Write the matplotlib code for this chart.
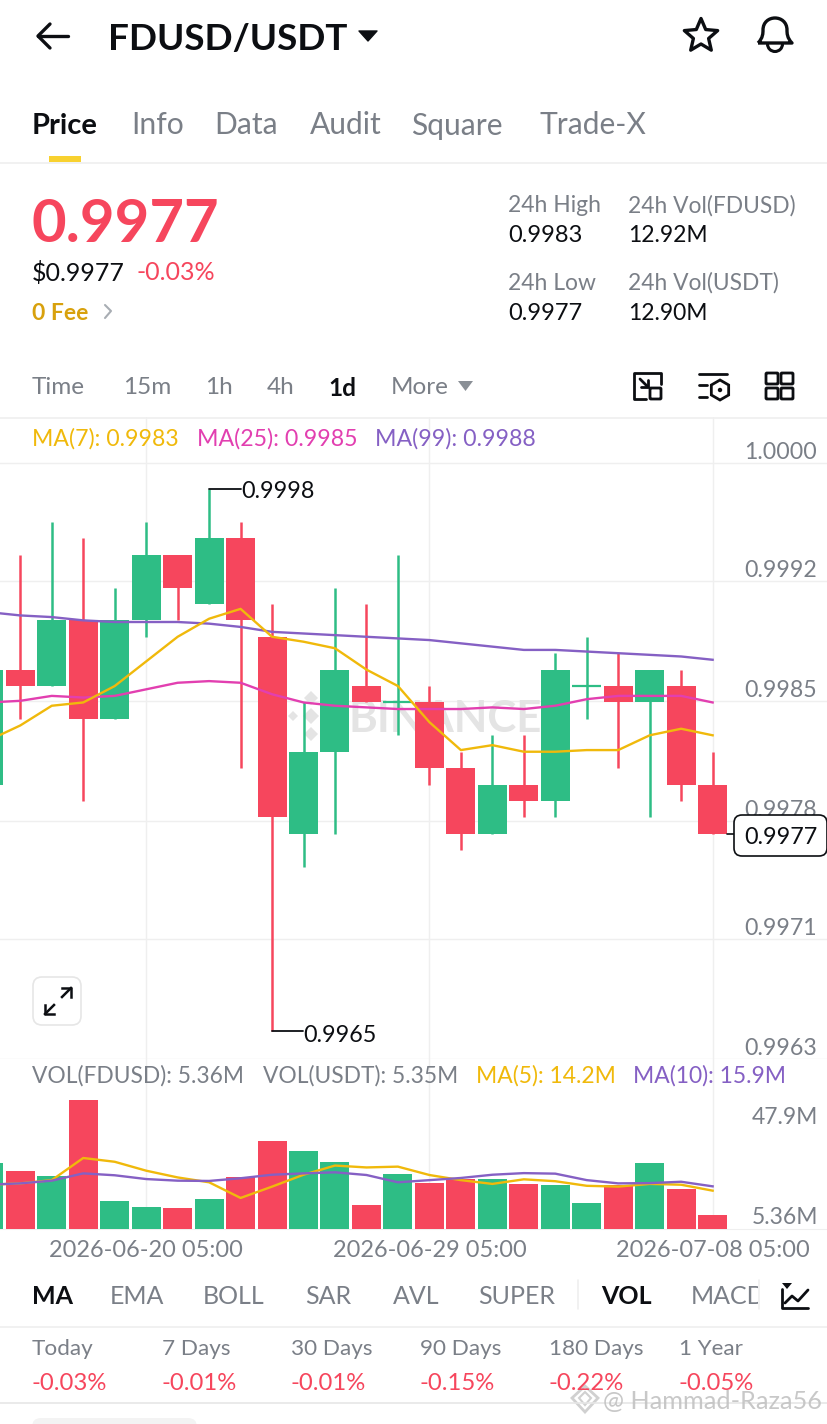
import numpy as np
import matplotlib
matplotlib.use('Agg')
import matplotlib.pyplot as plt
from matplotlib.patches import FancyBboxPatch, Rectangle, Polygon, Circle, Arc, PathPatch
from matplotlib.path import Path

plt.rcParams['font.family'] = ['Lato', 'DejaVu Sans']

W, H = 828, 1424

# candles, oldest first
opens = [0.9980, 0.9987, 0.9986, 0.9990, 0.9984, 0.9990, 0.9994, 0.9991, 0.9995, 0.9989, 0.9977, 0.9982,
         0.9986, 0.9985, 0.9985, 0.9981, 0.9977, 0.9980, 0.9979, 0.9986, 0.9986, 0.9985, 0.9986, 0.9980]
closes = [0.9987, 0.9986, 0.9990, 0.9984, 0.9990, 0.9994, 0.9992, 0.9995, 0.9990, 0.9978, 0.9982, 0.9987,
          0.9985, 0.9985, 0.9981, 0.9977, 0.9980, 0.9979, 0.9987, 0.9986, 0.9985, 0.9987, 0.9980, 0.9977]
highs = [0.9988, 0.9994, 0.9996, 0.9995, 0.9992, 0.9996, 0.9994, 0.9998, 0.9996, 0.9991, 0.9985, 0.9992,
         0.9991, 0.9994, 0.9986, 0.9982, 0.9983, 0.9983, 0.9988, 0.9989, 0.9988, 0.9987, 0.9987, 0.9982]
lows = [0.9979, 0.9984, 0.9986, 0.9979, 0.9984, 0.9989, 0.9990, 0.9991, 0.9981, 0.9965, 0.9975, 0.9977,
        0.9985, 0.9983, 0.9980, 0.9976, 0.9977, 0.9978, 0.9978, 0.9984, 0.9981, 0.9978, 0.9979, 0.9977]
is_up = [True, False, True, False, True, True, False, True, False, False, True, True,
         False, True, False, False, True, False, True, True, False, True, False, False]

ma7 = [0.99827, 0.99836, 0.99848, 0.99850, 0.99860, 0.99875, 0.99890, 0.99901, 0.99907, 0.99890, 0.99887, 0.99883,
       0.99870, 0.99860, 0.99838, 0.99821, 0.99824, 0.99820, 0.99820, 0.99821, 0.99821, 0.99830, 0.99834, 0.99830]
ma25 = [0.99850, 0.99851, 0.99854, 0.99853, 0.99854, 0.99858, 0.99862, 0.99863, 0.99862, 0.99855, 0.99850, 0.99848,
        0.99847, 0.99846, 0.99846, 0.99846, 0.99847, 0.99846, 0.99848, 0.99852, 0.99854, 0.99854, 0.99854, 0.99850]
ma99 = [0.99905, 0.99903, 0.99902, 0.99900, 0.99899, 0.99899, 0.99899, 0.99898, 0.99896, 0.99893, 0.99892, 0.99891,
        0.99890, 0.99889, 0.99888, 0.99886, 0.99884, 0.99882, 0.99882, 0.99881, 0.99880, 0.99879, 0.99878, 0.99876]

# volume in millions
volumes = [24.3, 21.6, 19.6, 47.9, 10.4, 8.3, 7.8, 11.2, 19.1, 32.7, 28.8, 24.9,
           8.9, 20.4, 17.0, 18.5, 18.6, 16.8, 16.4, 9.5, 16.3, 24.6, 14.9, 5.36]
vol_ma5 = [16.4, 16.9, 18.1, 26.3, 24.9, 21.6, 19.1, 17.3, 11.5, 15.7, 20.1, 23.5,
           22.8, 23.1, 20.0, 18.1, 16.7, 18.4, 17.7, 16.0, 15.7, 16.7, 16.4, 14.2]
vol_ma10 = [16.4, 16.9, 17.9, 20.6, 19.9, 18.5, 17.9, 17.8, 18.8, 20.1, 20.6, 21.0,
            20.0, 17.3, 18.1, 18.9, 20.1, 20.7, 20.5, 18.1, 16.9, 17.0, 17.5, 15.8]

price_ticks = [0.99996, 0.99924, 0.99851, 0.99778, 0.99706, 0.99633]
price_labels = ['1.0000', '0.9992', '0.9985', '0.9978', '0.9971', '0.9963']
date_ticks = [5, 14, 23]
date_labels = ['2026-06-20 05:00', '2026-06-29 05:00', '2026-07-08 05:00']

tabs = ['Price', 'Info', 'Data', 'Audit', 'Square', 'Trade-X']
tab_x = [32, 131, 214, 310, 411, 540]
intervals = ['Time', '15m', '1h', '4h', '1d', 'More']
interval_x = [32, 123, 205, 267, 328, 391]
indicators = ['MA', 'EMA', 'BOLL', 'SAR', 'AVL', 'SUPER', 'VOL', 'MACD']
indicator_x = [32, 110, 203, 305, 393, 478, 601, 691]
periods = ['Today', '7 Days', '30 Days', '90 Days', '180 Days', '1 Year']
changes = ['-0.03%', '-0.01%', '-0.01%', '-0.15%', '-0.22%', '-0.05%']
period_x = [32, 162, 291, 420, 549, 679]

RED = '#f6465d'
GREEN = '#2ebd85'
YELLOW = '#f0b90b'
PINK = '#e23fb0'
PURPLE = '#8560c4'
GRAY = '#7a7f87'
GRID = '#efefef'
BLACK = '#0c0e12'

fig = plt.figure(figsize=(W / 100, H / 100), dpi=100, facecolor='white')


def panel(top, bottom):
    return fig.add_axes([0, 1 - bottom / H, 1, (bottom - top) / H], facecolor='none')


# x scale shared by both panels: candle i sits at -11.17 + 31.47 * i px
x_lim = (11.17 / 31.47, (W + 11.17) / 31.47)
xs = np.arange(len(opens))
colors = [GREEN if u else RED for u in is_up]
body_w = 29 / 31.47

# price panel, 164200 px per unit of price
ax = panel(417, 1059)
ax.set_xlim(*x_lim)
ax.set_ylim(0.9998 - 570 / 164200, 0.9998 + 72 / 164200)
ax.vlines(xs, lows, highs, colors=colors, lw=1.8, zorder=3)
for i in xs:
    b, t = min(opens[i], closes[i]), max(opens[i], closes[i])
    if t > b:
        ax.bar(i, t - b, bottom=b, width=body_w, color=colors[i], lw=0, zorder=4)
    else:
        ax.hlines(b, i - body_w / 2, i + body_w / 2, colors=colors[i], lw=1.6, zorder=4)
ax.plot(xs, ma99, color=PURPLE, lw=1.7, zorder=5)
ax.plot(xs, ma25, color=PINK, lw=1.7, zorder=5)
ax.plot(xs, ma7, color=YELLOW, lw=1.7, zorder=5)
ax.set_yticks(price_ticks)
ax.set_yticklabels(price_labels)
ax.set_xticks(date_ticks)
ax.tick_params(axis='x', length=0, labelbottom=False)
ax.tick_params(axis='y', length=0, labelleft=False, labelright=True, pad=-8, labelsize=16.7, labelcolor=GRAY)
for lab in ax.get_yticklabels():
    lab.set_ha('right')
    lab.set_va('bottom')
ax.grid(True, color=GRID, lw=1)
ax.set_axisbelow(True)
for s in ax.spines.values():
    s.set_visible(False)

# volume panel
ax2 = panel(1059, 1229)
ax2.set_xlim(*x_lim)
ax2.set_ylim(0, 170 * 0.3704)
ax2.bar(xs, volumes, width=body_w, color=colors, lw=0, zorder=3)
ax2.plot(xs, vol_ma5, color=YELLOW, lw=1.7, zorder=4)
ax2.plot(xs, vol_ma10, color=PURPLE, lw=1.7, zorder=5)
ax2.set_xticks(date_ticks)
ax2.set_xticklabels(date_labels)
ax2.set_yticks([])
ax2.tick_params(axis='x', length=0, pad=8, labelsize=16.9, labelcolor=GRAY)
ax2.grid(True, axis='x', color=GRID, lw=1)
ax2.set_axisbelow(True)
for s in ['top', 'left', 'right']:
    ax2.spines[s].set_visible(False)
ax2.spines['bottom'].set_color(GRID)

# everything else is laid out in pixels on a full-figure overlay
ov = fig.add_axes([0, 0, 1, 1], facecolor='none', zorder=10)
ov.set_xlim(0, W)
ov.set_ylim(H, 0)
ov.axis('off')


def txt(x, y, s, size, color=GRAY, weight='normal', ha='left', **kw):
    return ov.text(x, y, s, fontsize=size, color=color, fontweight=weight, ha=ha, va='center_baseline', **kw)


def line(xv, yv, color=BLACK, lw=2.4):
    ov.plot(xv, yv, color=color, lw=lw, solid_capstyle='round', solid_joinstyle='round')


def rrect(x, y, w, h, r=2, fc='none', ec=BLACK, lw=2.2, z=2):
    ov.add_patch(FancyBboxPatch((x + r, y + r), w - 2 * r, h - 2 * r, boxstyle=f'round,pad={r}',
                                fc=fc, ec=ec, lw=lw, zorder=z, mutation_aspect=1))


# header
line([38, 68], [36, 36])
line([50, 38, 50], [24, 36, 48])
txt(108, 36, 'FDUSD/USDT', 26.6, BLACK, 'bold')
ov.add_patch(Polygon([[359, 31], [377, 31], [368, 41]], fc=BLACK, ec=BLACK, lw=1, joinstyle='round'))
ang = np.pi / 2 + np.arange(10) * np.pi / 5
rad = np.where(np.arange(10) % 2 == 0, 17.5, 8)
ov.add_patch(Polygon(np.c_[701 + rad * np.cos(ang), 36 - rad * np.sin(ang)], fc='none', ec=BLACK, lw=2.4, joinstyle='round'))
bell = Path([(758, 43), (763, 38), (763, 33), (763, 30), (763, 22), (769, 18), (775, 18),
             (781, 18), (787, 22), (787, 30), (787, 33), (787, 38), (792, 43), (758, 43)],
            [Path.MOVETO] + [Path.CURVE4] * 12 + [Path.LINETO])
ov.add_patch(PathPatch(bell, fc='none', ec=BLACK, lw=2.4, joinstyle='round'))
ov.add_patch(Arc((775, 44), 15, 15, theta1=0, theta2=180, color=BLACK, lw=2.2))

# tabs and the line under them
for lab, x in zip(tabs, tab_x):
    if lab == 'Price':
        txt(x, 123, lab, 21, BLACK, 'bold')
    else:
        txt(x, 123, lab, 21.6)
ov.add_patch(Rectangle((49, 156), 32, 6, fc='#f8d12f', ec='none', zorder=3))
line([0, W], [162.5, 162.5], GRID, 1.2)

# price block
txt(32, 220, '0.9977', 43, RED, 'bold')
txt(32, 271, '$0.9977', 18, BLACK)
txt(137, 271, '-0.03%', 18, RED)
txt(32, 311, '0 Fee', 16.5, '#d8a10d', 'bold')
line([105, 111, 105], [305, 311, 318], '#a8adb3', 1.5)
txt(508, 204, '24h High', 16.5)
txt(508, 234, '0.9983', 17, BLACK)
txt(628, 204, '24h Vol(FDUSD)', 16.4)
txt(628, 234, '12.92M', 16.5, BLACK)
txt(508, 281, '24h Low', 16.5)
txt(508, 312, '0.9977', 17, BLACK)
txt(628, 281, '24h Vol(USDT)', 16.4)
txt(628, 312, '12.90M', 16.5, BLACK)

# interval row
for lab, x in zip(intervals, interval_x):
    if lab == '1d':
        txt(x, 386, lab, 17.5, BLACK, 'bold')
    else:
        txt(x, 386, lab, 17.5)
ov.add_patch(Polygon([[458, 381], [473, 381], [465.5, 391]], fc='#8a8f96', ec='none'))
# layout icon
line([661, 661, 657, 634, 634, 646], [384, 373, 373, 373, 399, 399], BLACK, 2)
line([640, 648], [379, 387], BLACK, 2)
line([648, 648, 641], [380, 387, 387], BLACK, 2)
rrect(650, 388, 11, 11, 1, ec=BLACK, lw=2)
# settings icon
line([699, 727], [374, 374], BLACK, 2)
line([699, 707], [385, 385], BLACK, 2)
line([699, 707], [397, 397], BLACK, 2)
hexa = 10 * np.exp(1j * (np.pi / 2 + np.arange(6) * np.pi / 3))
ov.add_patch(Polygon(np.c_[720 + hexa.real, 390 + hexa.imag], fc='none', ec=BLACK, lw=2))
ov.add_patch(Circle((720, 390), 2.2, fc=BLACK, ec='none'))
# grid icon
for gx in (766, 781):
    for gy in (373, 388):
        rrect(gx, gy, 12, 11, 1, ec=BLACK, lw=2)
line([0, W], [417.5, 417.5], GRID, 1.2)

# legends
txt(32, 437, 'MA(7): 0.9983', 16.6, YELLOW)
txt(197, 437, 'MA(25): 0.9985', 16.7, PINK)
txt(375, 437, 'MA(99): 0.9988', 16.7, PURPLE)
txt(32, 1074, 'VOL(FDUSD): 5.36M', 16.4)
txt(263, 1074, 'VOL(USDT): 5.35M', 16.4)
txt(476, 1074, 'MA(5): 14.2M', 16.5, YELLOW)
txt(633, 1074, 'MA(10): 15.9M', 16.5, PURPLE)
txt(818, 1115, '47.9M', 16.5, ha='right')
txt(818, 1215, '5.36M', 16.5, ha='right')

# high / low callouts
line([209, 241], [489, 489], BLACK, 1.3)
txt(241, 490, '0.9998', 16.8, BLACK)
line([272, 303], [1031, 1031], BLACK, 1.3)
txt(303, 1033, '0.9965', 16.8, BLACK)

# last price tag
line([727, 734], [834, 834], BLACK, 1.2)
rrect(734, 815, 93, 41, 8, fc='white', ec=BLACK, lw=1.2, z=6)
txt(781, 835, '0.9977', 16.8, BLACK, ha='center', zorder=7)

# expand button
rrect(33, 977, 48, 48, 9, fc='white', ec='#e6e6e6', lw=1.2, z=6)
ov.plot([45, 54], [1014, 1005], color=BLACK, lw=1.8, zorder=7)
ov.plot([62, 71], [997, 988], color=BLACK, lw=1.8, zorder=7)
ov.plot([45, 45, 54], [1005, 1014, 1014], color=BLACK, lw=1.8, zorder=7)
ov.plot([62, 71, 71], [988, 988, 997], color=BLACK, lw=1.8, zorder=7)

# watermark sits behind the candles
wm = '#e4e4e4'
ax.text(349, 716, 'BINANCE', transform=ov.transData, fontsize=31.5, fontweight='bold', color=wm, va='center_baseline', zorder=1)
for cx, cy, r in [(311, 716, 8), (311, 698, 7), (311, 734, 7), (293, 716, 5), (329, 716, 5)]:
    ax.add_patch(Polygon([[cx - r, cy], [cx, cy - r], [cx + r, cy], [cx, cy + r]], fc=wm, ec='none',
                         transform=ov.transData, zorder=1))

# indicator row
for lab, x in zip(indicators, indicator_x):
    if lab in ('MA', 'VOL'):
        txt(x, 1294, lab, 18, BLACK, 'bold')
    else:
        t = txt(x, 1294, lab, 18)
        if lab == 'MACD':
            t.set_clip_on(True)
            t.set_clip_path(Rectangle((x, 1270), 67, 50, transform=ov.transData))
line([578.5, 578.5], [1280, 1309], GRID, 1.2)
line([759.5, 759.5], [1280, 1309], GRID, 1.2)
line([782, 782, 808], [1289, 1308, 1308], BLACK, 2)
line([785, 792, 798, 808], [1303, 1296, 1301, 1290], BLACK, 2)
ov.add_patch(Polygon([[782, 1283], [792, 1283], [787, 1289]], fc=BLACK, ec='none'))
line([0, W], [1327, 1327], GRID, 1.2)

# performance row
for lab, val, x in zip(periods, changes, period_x):
    txt(x, 1347, lab, 16.2)
    txt(x, 1382, val, 17.2, RED)
line([0, W], [1403, 1403], '#e6e6e6', 1.2)
rrect(32, 1418, 165, 20, 9, fc='#f3f3f3', ec='none', lw=0)

# repost watermark
txt(603, 1399, '@ Hammad-Raza56', 18.2, '#c2c2c2', alpha=0.9)
ov.add_patch(Polygon([[572, 1398], [585, 1386], [598, 1398], [585, 1412]], fc='none', ec='#d0d0d0', lw=2))
ov.add_patch(Polygon([[579, 1398], [585, 1392], [591, 1398], [585, 1405]], fc='none', ec='#d0d0d0', lw=1.5))

fig.savefig('out.png', dpi=100)
